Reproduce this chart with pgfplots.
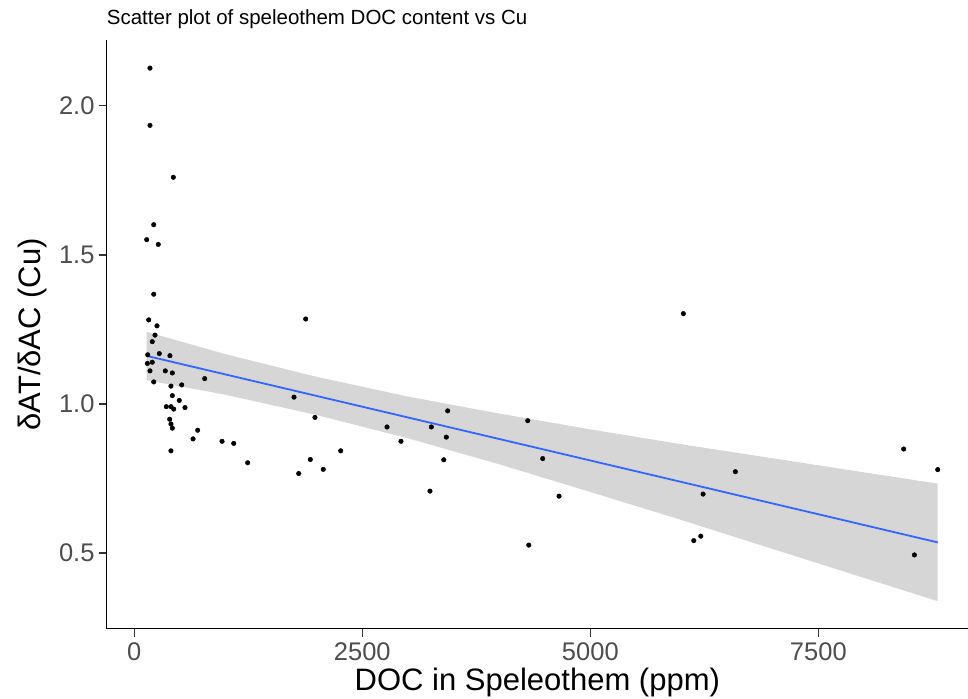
\documentclass[border=0pt]{standalone}
\usepackage{fontspec}
\setmainfont{Liberation Sans}
\usepackage{pgfplots}
\usepackage{pgfplotstable}
\pgfplotsset{compat=1.18}
\definecolor{bandgrey}{HTML}{999999}
\definecolor{smoothblue}{HTML}{3366FF}
\definecolor{tickgrey}{HTML}{4D4D4D}
\definecolor{tickmark}{HTML}{333333}

\pgfplotstableread{
x y
172 2.126
172 1.934
428 1.760
213 1.601
136 1.551
263 1.535
213 1.368
158 1.282
249 1.262
227 1.231
197 1.209
147 1.165
274 1.169
391 1.162
143 1.136
197 1.140
172 1.111
340 1.111
417 1.104
213 1.074
772 1.085
402 1.060
520 1.064
417 1.028
493 1.012
351 0.991
402 0.991
432 0.983
556 0.988
388 0.949
402 0.933
417 0.919
695 0.912
644 0.883
962 0.875
1090 0.868
402 0.843
1243 0.803
1751 1.023
1879 1.285
1981 0.955
2263 0.843
1930 0.814
2072 0.781
1803 0.767
2771 0.923
2924 0.875
3257 0.923
3436 0.977
3421 0.889
3393 0.813
3242 0.708
4314 0.944
4478 0.817
4657 0.691
4325 0.527
6020 1.303
6590 0.773
6236 0.698
6134 0.542
6211 0.557
8436 0.849
8809 0.780
8553 0.494
}\points

\begin{document}
\begin{tikzpicture}
\begin{axis}[
  scale only axis,
  width=861.3pt, height=588.7pt,
  xmin=-302.6, xmax=9141, ymin=0.2467, ymax=2.2203,
  axis lines=left,
  axis line style={-, line width=1.5pt, black},
  every outer x axis line/.append style={-},
  every outer y axis line/.append style={-},
  xtick={0,2500,5000,7500}, xticklabels={0,2500,5000,7500},
  ytick={0.5,1,1.5,2}, yticklabels={0.5,1.0,1.5,2.0},
  tick align=outside, major tick length=8pt,
  tick style={tickmark, line width=1.3pt},
  ticklabel style={font=\fontsize{25.5}{30}\selectfont, text=tickgrey},
  xticklabel style={inner sep=0pt, yshift=-6pt},
  yticklabel style={inner sep=0pt, xshift=-4pt},
  title={Scatter plot of speleothem DOC content vs Cu},
  title style={font=\fontsize{20.5}{24}\selectfont, at={(axis description cs:0,1)}, anchor=base west, yshift=9pt, inner sep=0pt},
  xlabel={DOC in Speleothem (ppm)},
  every axis x label/.style={at={(axis description cs:0.5,-0.1053)}, anchor=base, font=\fontsize{31}{36}\selectfont, inner sep=0pt},
  ylabel={δAT/δAC (Cu)},
  every axis y label/.style={at={(axis description cs:-0.0774,0.5)}, rotate=90, anchor=base, font=\fontsize{31}{36}\selectfont, inner sep=0pt},
]
\coordinate (O) at (rel axis cs:0,0);
\addplot[only marks, mark=*, mark size=2.3pt, black] table[x=x, y=y] {\points};
\addplot[fill=bandgrey, fill opacity=0.4, draw=none] coordinates {
  (136,1.242) (1000,1.167) (2000,1.091) (3000,1.025) (4000,0.968) (5000,0.915)
  (6000,0.865) (7000,0.818) (8000,0.771) (8809,0.733)
  (8809,0.339) (8000,0.417) (7000,0.514) (6000,0.611) (5000,0.705) (4000,0.798)
  (3000,0.885) (2000,0.963) (1000,1.031) (136,1.080)
};
\addplot[smoothblue, line width=1.8pt] coordinates {(136,1.1614) (8809,0.536)};
\end{axis}
\pgfresetboundingbox
\path (O) ++(-106.7pt,-69.3pt) rectangle ++(968pt,698pt);
\end{tikzpicture}
\end{document}
